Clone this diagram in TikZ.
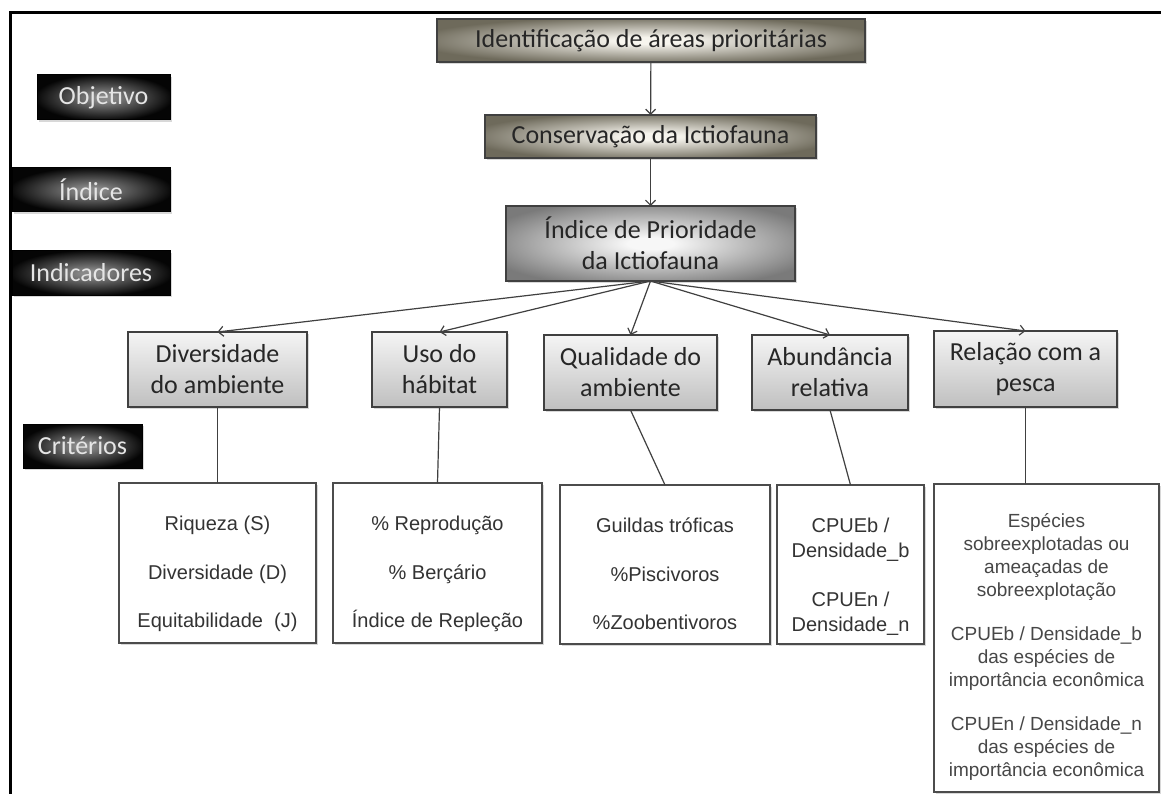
\documentclass[tikz,border=0pt]{standalone}
\usepackage{fontspec}
\newfontfamily\calfont{Carlito}
\newfontfamily\arifont{Liberation Sans}
\usetikzlibrary{arrows.meta,shadows}
\definecolor{tanin}{HTML}{F7F5EE}
\definecolor{tanout}{HTML}{6E6A5B}
\definecolor{gin}{HTML}{F7F7F7}
\definecolor{gout}{HTML}{7A7A7A}
\definecolor{din}{HTML}{8A8A8A}
\definecolor{dout}{HTML}{050505}
\pgfdeclareradialshading{tanglow}{\pgfpoint{0bp}{0bp}}{color(0bp)=(tanin); color(4bp)=(tanin); color(28bp)=(tanout); color(50bp)=(tanout)}
\pgfdeclareradialshading{grayglow}{\pgfpoint{0bp}{0bp}}{color(0bp)=(gin); color(4bp)=(gin); color(30bp)=(gout); color(50bp)=(gout)}
\pgfdeclareradialshading{darkglow}{\pgfpoint{0bp}{0bp}}{color(0bp)=(din); color(3bp)=(din); color(26bp)=(dout); color(50bp)=(dout)}
\begin{document}
\begin{tikzpicture}[x=1pt,y=-1pt,
  base/.style={inner sep=0pt, outer sep=0pt, align=center},
  shad/.style={drop shadow={shadow xshift=2pt,shadow yshift=-2pt,opacity=0.3}},
  bigfont/.style={font=\calfont\fontsize{26}{31}\selectfont},
  topbox/.style={base, shad, bigfont, draw=black!75, line width=1.3pt, shade, shading=tanglow, text=black!85},
  ipibox/.style={topbox, shading=grayglow},
  lab/.style={base, shad, bigfont, draw=black, line width=1pt, shade, shading=darkglow, text=white!90!black},
  ind/.style={base, shad, bigfont, draw=black!75, line width=1.2pt, top color=black!4, bottom color=black!25, text=black!85},
  crit/.style={base, shad, draw=black!70, line width=1.3pt, fill=white},
  crittext/.style={base, font=\arifont\fontsize{20}{48.5}\selectfont, text=black!80},
  arr/.style={draw=black!75, line width=1.2pt, -{Straight Barb[length=5pt,width=10pt]}},
  conn/.style={draw=black!75, line width=1.2pt},
]
\path[use as bounding box, fill=white] (0,0) rectangle (1161,794);
% frame
\coordinate (ftl) at (10.5,12.5);
\coordinate (ftr) at (1161,12.5);
\coordinate (fbl) at (10.5,794);
\draw[line width=2.5pt, line cap=rect] (ftr) -- (ftl) -- (fbl);

% level labels
\node[lab, minimum width=133pt, minimum height=45pt] (lobj) at (103.5,97.5) {Objetivo};
\node[lab, minimum width=158pt, minimum height=44pt] (lind) at (91,190) {Índice};
\node[lab, minimum width=158pt, minimum height=44pt] (lindic) at (91,273) {Indicadores};
\node[lab, minimum width=119pt, minimum height=44pt] (lcrit) at (82.5,446) {Critérios};

% top chain
\node[topbox, minimum width=428pt, minimum height=43pt] (ident) at (651,40.5) {Identificação de áreas prioritárias};
\node[topbox, minimum width=331pt, minimum height=43pt] (cons) at (650.5,136.5) {Conservação da Ictiofauna};
\node[ipibox, minimum width=289pt, minimum height=75pt] (ipi) at (650.5,243.5) {Índice de Prioridade\\da Ictiofauna};

% indicators
\node[ind, minimum width=179pt, minimum height=75pt] (div) at (217.5,369.5) {Diversidade\\do ambiente};
\node[ind, minimum width=135pt, minimum height=75pt] (uso) at (439.5,369.5) {Uso do\\hábitat};
\node[ind, minimum width=173pt, minimum height=75pt] (qual) at (630.5,372.5) {Qualidade do\\ambiente};
\node[ind, minimum width=156pt, minimum height=75pt] (abu) at (830,372.5) {Abundância\\relativa};
\node[ind, minimum width=183pt, minimum height=76pt] (rel) at (1025.5,369) {Relação com a\\pesca};

% criteria boxes
\node[crit, minimum width=197pt, minimum height=160pt] (c1) at (217.5,563) {};
\node[crit, minimum width=209pt, minimum height=160pt] (c2) at (437.5,563) {};
\node[crit, minimum width=210pt, minimum height=159pt] (c3) at (665,564.5) {};
\node[crit, minimum width=147pt, minimum height=159pt] (c4) at (850.5,564.5) {};
\node[crit, minimum width=225pt, minimum height=308pt] (c5) at (1046.5,638) {};

\node[crittext] (c1t) at (217.5,574) {Riqueza (S)\\Diversidade (D)\\Equitabilidade\ \ (J)};
\node[crittext] (c2t) at (437.5,574) {\% Reprodução\\\% Berçário\\Índice de Repleção};
\node[crittext] (c3t) at (665,574) {Guildas tróficas\\\%Piscivoros\\\%Zoobentivoros};
\node[crittext, font=\arifont\fontsize{20}{25}\selectfont] (c4t) at (850.5,577) {CPUEb /\\Densidade\_b\\[24pt]CPUEn /\\Densidade\_n};
\node[crittext, font=\arifont\fontsize{19}{23}\selectfont, text=black!72] (c5t) at (1046.5,647) {Espécies\\sobreexplotadas ou\\ameaçadas de\\sobreexplotação\\[21pt]CPUEb / Densidade\_b\\das espécies de\\importância econômica\\[21pt]CPUEn / Densidade\_n\\das espécies de\\importância econômica};

% connectors
\draw[arr] (ident) -- (cons);
\draw[arr] (cons) -- (ipi);
\draw[arr] (ipi.south) -- (div.north);
\draw[arr] (ipi.south) -- (uso.north);
\draw[arr] (ipi.south) -- (qual.north);
\draw[arr] (ipi.south) -- (abu.north);
\draw[arr] (ipi.south) -- (rel.north);

\draw[conn] (div.south) -- (c1.north);
\draw[conn] (uso.south) -- (c2.north);
\draw[conn] (qual.south) -- (c3.north);
\draw[conn] (abu.south) -- (c4.north);
\draw[conn] (rel.south) -- (rel.south |- c5.north);
\end{tikzpicture}
\end{document}
